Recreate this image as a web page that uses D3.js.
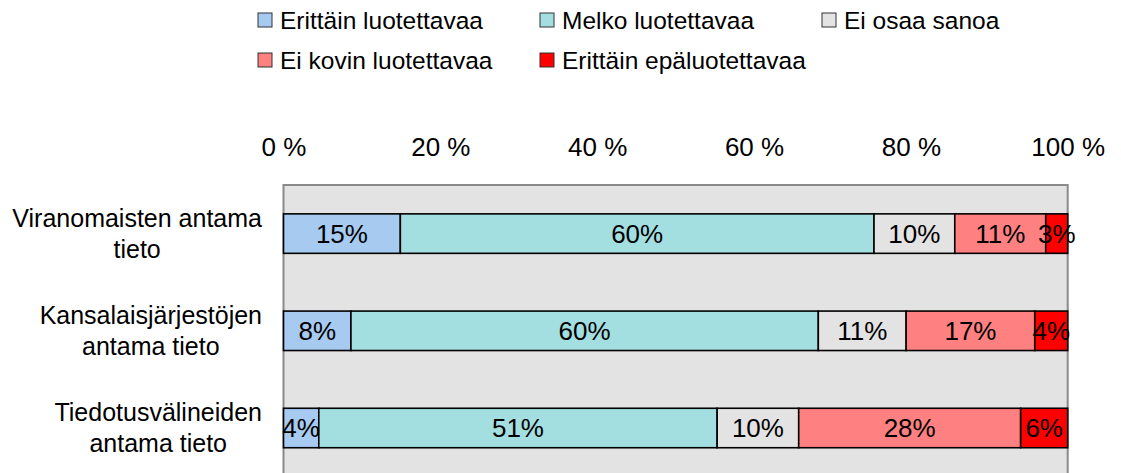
<!DOCTYPE html>
<html>
<head>
<meta charset="utf-8">
<script src="https://cdn.jsdelivr.net/npm/d3@7"></script>
<style>
    body { margin: 0; background: #fff; }
    text { font-family: "Liberation Sans", Arial, sans-serif; fill: #000; }
</style>
</head>
<body>
<svg id="chart" width="1121" height="473" viewBox="0 0 1121 473"></svg>
<script>
const categories = ["Viranomaisten antama tieto", "Kansalaisjärjestöjen antama tieto", "Tiedotusvälineiden antama tieto"];
const seriesNames = ["Erittäin luotettavaa", "Melko luotettavaa", "Ei osaa sanoa", "Ei kovin luotettavaa", "Erittäin epäluotettavaa"];
const seriesColors = ["#a6caf0", "#a3dfe0", "#e3e3e3", "#ff8080", "#ff0000"];

// shares
const erittainLuotettavaa = [14.9, 8.6, 4.5];
const melkoLuotettavaa = [60.4, 59.6, 50.8];
const eiOsaaSanoa = [10.3, 11.2, 10.4];
const eiKovinLuotettavaa = [11.6, 16.4, 28.3];
const erittainEpaluotettavaa = [2.8, 4.2, 6.0];

// labels as printed on the bars
const labelsErittain = [15, 8, 4];
const labelsMelko = [60, 60, 51];
const labelsEiOsaa = [10, 11, 10];
const labelsEiKovin = [11, 17, 28];
const labelsEpa = [3, 4, 6];

const tickValues = [0, 0.2, 0.4, 0.6, 0.8, 1];

window.addEventListener('load', () => {
    const svg = d3.select("#chart");
    const values = [erittainLuotettavaa, melkoLuotettavaa, eiOsaaSanoa, eiKovinLuotettavaa, erittainEpaluotettavaa];
    const labels = [labelsErittain, labelsMelko, labelsEiOsaa, labelsEiKovin, labelsEpa];

    const table = categories.map((c, i) => {
        let row = {category: c};
        seriesNames.forEach((s, j) => row[s] = values[j][i]);
        return row;
    });
    const stacked = d3.stack().keys(seriesNames).offset(d3.stackOffsetExpand)(table);

    const plot = {left: 283.5, right: 1067.7, top: 185, step: 97.2};
    const x = d3.scaleLinear().domain([0, 1]).range([plot.left, plot.right]);
    const y = d3.scaleBand()
        .domain(categories)
        .range([plot.top, plot.top + plot.step * categories.length])
        .paddingInner(0.594)
        .paddingOuter(0.297);

    svg.append("rect")
        .attr("x", plot.left)
        .attr("y", plot.top)
        .attr("width", plot.right - plot.left)
        .attr("height", plot.step * categories.length)
        .attr("fill", "#e3e3e3")
        .attr("stroke", "#8a8a8a")
        .attr("stroke-width", 2);

    // top axis, labels only
    let xaxis = svg.append("g")
        .attr("transform", "translate(0,156)")
        .call(d3.axisTop(x).tickValues(tickValues).tickSize(0).tickPadding(0)
            .tickFormat(d => Math.round(d * 100) + " %"));
    xaxis.select(".domain").remove();
    xaxis.selectAll("text").attr("font-size", 26).attr("font-family", null);

    let groups = svg.selectAll(".series")
        .data(stacked)
        .join("g")
        .attr("fill", (d, i) => seriesColors[i]);

    groups.selectAll("rect")
        .data(d => d)
        .join("rect")
        .attr("x", d => x(d[0]))
        .attr("y", d => y(d.data.category))
        .attr("width", d => x(d[1]) - x(d[0]))
        .attr("height", y.bandwidth())
        .attr("stroke", "#000")
        .attr("stroke-width", 1.6);

    stacked.forEach((s, j) => {
        svg.append("g").selectAll("text")
            .data(s)
            .join("text")
            .attr("x", d => (x(d[0]) + x(d[1])) / 2)
            .attr("y", d => y(d.data.category) + y.bandwidth() / 2 + 9)
            .attr("text-anchor", "middle")
            .attr("font-size", 26)
            .text((d, i) => labels[j][i] + "%");
    });

    // category labels, wrapped and centred in a block that ends at x=262
    categories.forEach(c => {
        let words = c.split(" ");
        let lines = [];
        let probe = svg.append("text").attr("font-size", 25);
        let line = words[0];
        for (let k = 1; k < words.length; k++) {
            probe.text(line + " " + words[k]);
            if (probe.node().getComputedTextLength() > 255) {
                lines.push(line);
                line = words[k];
            } else {
                line += " " + words[k];
            }
        }
        lines.push(line);
        let widths = lines.map(l => { probe.text(l); return probe.node().getComputedTextLength(); });
        probe.remove();
        let cx = 262 - d3.max(widths) / 2;
        let cy = y(c) + y.bandwidth() / 2;
        lines.forEach((l, k) => {
            svg.append("text")
                .attr("x", cx)
                .attr("y", cy - 7 + k * 31)
                .attr("text-anchor", "middle")
                .attr("font-size", 25)
                .text(l);
        });
    });

    // legend, three equal columns
    const legendPos = [[258, 20], [540, 20], [822, 20], [258, 60], [540, 60]];
    let legend = svg.append("g").selectAll("g")
        .data(seriesNames)
        .join("g")
        .attr("transform", (d, i) => `translate(${legendPos[i][0]},${legendPos[i][1]})`);
    legend.append("rect")
        .attr("x", 0)
        .attr("y", -7)
        .attr("width", 14)
        .attr("height", 14)
        .attr("fill", (d, i) => seriesColors[i])
        .attr("stroke", "#333")
        .attr("stroke-width", 1);
    legend.append("text")
        .attr("x", 22)
        .attr("y", 9)
        .attr("font-size", 24.5)
        .text(d => d);
});
</script>
</body>
</html>
